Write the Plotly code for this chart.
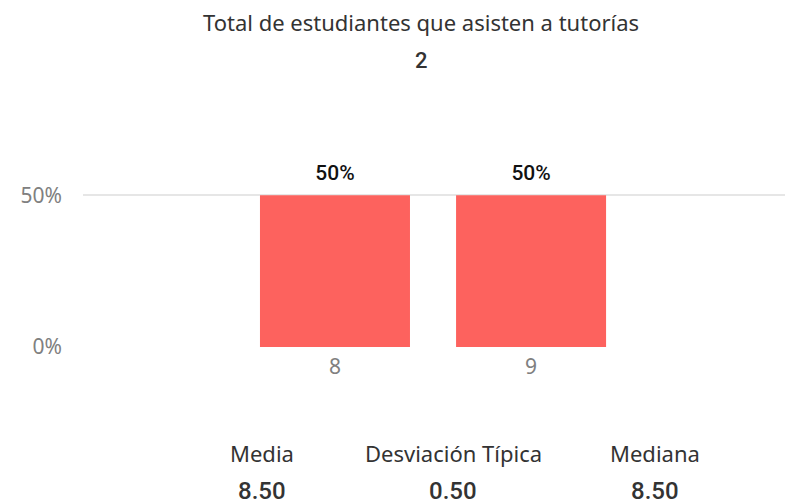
import plotly.graph_objects as go

# Data
categories = [8, 9]
values = [0.5, 0.5]
title_text = "Total de estudiantes que asisten a tutorías"
total_students = "2"
stat_labels = ["Media", "Desviación Típica", "Mediana"]
stat_values = ["8.50", "0.50", "8.50"]
y_tick_vals = [0, 0.5]
y_tick_text = ["0%", "50%"]

W, H = 785, 504
ML, MR, MT, MB = 83, 0, 130, 157
plot_h = H - MT - MB
plot_w = W - ML - MR


def py(ypix):
    return (H - MB - ypix) / plot_h


def px(xpix):
    return (xpix - ML) / plot_w


fig = go.Figure()
fig.add_trace(go.Bar(
    x=categories,
    y=values,
    width=0.765,
    marker=dict(color="#FD625E", line=dict(width=0)),
    hoverinfo="skip",
))
fig.add_trace(go.Scatter(
    x=categories,
    y=values,
    mode="markers+text",
    marker=dict(size=15, opacity=0),
    text=[f"{v:.0%}" for v in values],
    textposition="top center",
    textfont=dict(family="Roboto", size=21, color="#111111", weight=500),
    cliponaxis=False,
    hoverinfo="skip",
))

annotations = [
    dict(text=title_text, x=px(421), y=py(22), font=dict(family="Noto Sans", size=22, color="#333333")),
    dict(text=total_students, x=px(421), y=py(60), font=dict(family="Roboto", size=22, color="#333333", weight=500)),
]
stat_x = [262, 453, 655]
for lab, val, xp in zip(stat_labels, stat_values, stat_x):
    annotations.append(dict(text=lab, x=px(xp), y=py(453), font=dict(family="Noto Sans", size=22, color="#333333")))
    annotations.append(dict(text=val, x=px(xp), y=py(491), font=dict(family="Roboto", size=24, color="#333333", weight=500)))
for a in annotations:
    a.update(xref="paper", yref="paper", xanchor="center", yanchor="middle", showarrow=False)

fig.update_layout(
    width=W, height=H,
    margin=dict(l=ML, r=MR, t=MT, b=MB),
    paper_bgcolor="white", plot_bgcolor="white",
    showlegend=False,
    annotations=annotations,
    xaxis=dict(
        range=[6.715, 10.295],
        tickvals=categories,
        ticktext=[str(c) for c in categories],
        showgrid=False, zeroline=False, showline=False,
        tickfont=dict(family="Noto Sans", size=21, color="#808080"),
        ticklabelstandoff=5,
    ),
    yaxis=dict(
        range=[0, 0.5 * plot_h / 151.7],
        tickvals=y_tick_vals,
        ticktext=y_tick_text,
        showgrid=True, gridcolor="#E6E6E6", gridwidth=1.5,
        zeroline=False, showline=False,
        tickfont=dict(family="Noto Sans", size=21, color="#808080"),
        ticklabelstandoff=20,
    ),
)

fig.write_html("out.html", config={"displayModeBar": False},
               post_script="document.body.style.margin='0';")
